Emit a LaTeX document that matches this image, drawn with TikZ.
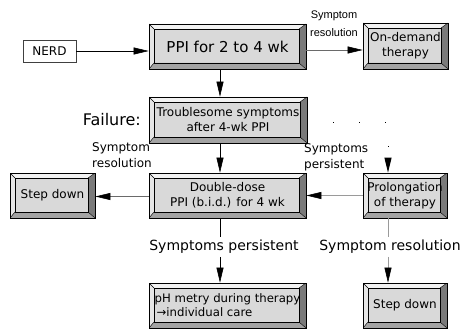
\documentclass[tikz,border=0pt]{standalone}
\usepackage{fontspec}
\setmainfont{DejaVu Sans}
\newfontfamily\arialf{Liberation Sans}
\usetikzlibrary{arrows.meta}
\definecolor{face}{HTML}{D9D9D9}
\definecolor{bevtop}{HTML}{F2F2F2}
\definecolor{bevleft}{HTML}{E6E6E6}
\definecolor{bevright}{HTML}{7A7A7A}
\definecolor{bevbot}{HTML}{A3A3A3}
\definecolor{lightline}{HTML}{9A9A9A}
\definecolor{midline}{HTML}{6A6A6A}
\tikzset{
  bev/.style={draw=black, line width=0.7pt, fill=face, inner sep=0pt, align=center,
    font=\fontsize{12}{15}\selectfont,
    path picture={
      \coordinate (oNW) at (path picture bounding box.north west);
      \coordinate (oNE) at (path picture bounding box.north east);
      \coordinate (oSW) at (path picture bounding box.south west);
      \coordinate (oSE) at (path picture bounding box.south east);
      \coordinate (iNW) at ([xshift=5pt,yshift=-5pt]oNW);
      \coordinate (iNE) at ([xshift=-7pt,yshift=-5pt]oNE);
      \coordinate (iSW) at ([xshift=5pt,yshift=6pt]oSW);
      \coordinate (iSE) at ([xshift=-7pt,yshift=6pt]oSE);
      \fill[bevtop] (oNW) -- (oNE) -- (iNE) -- (iNW) -- cycle;
      \fill[bevleft] (oNW) -- (oSW) -- (iSW) -- (iNW) -- cycle;
      \fill[bevright] (oNE) -- (oSE) -- (iSE) -- (iNE) -- cycle;
      \fill[bevbot] (oSW) -- (oSE) -- (iSE) -- (iSW) -- cycle;
      \draw[line width=0.5pt] (iNW) rectangle (iSE);
      \draw[line width=0.4pt] (oNW) -- (iNW) (oNE) -- (iNE) (oSW) -- (iSW) (oSE) -- (iSE);
    }},
  arr/.style={line width=0.6pt, -{Triangle[length=15pt,width=7pt,color=black]}},
  lbl/.style={inner sep=0pt, font=\fontsize{12}{16}\selectfont},
  biglbl/.style={inner sep=3pt, font=\fontsize{14}{16}\selectfont},
}
\begin{document}
\begin{tikzpicture}[x=1pt,y=-1pt]
\useasboundingbox (0,0) rectangle (461,329);

% boxes
\node[draw=black!75, line width=0.7pt, fill=white, minimum width=53pt, minimum height=22pt,
      inner sep=0pt, font=\fontsize{12}{14}\selectfont] (nerd) at (49.5,51) {NERD};
\node[bev, minimum width=157pt, minimum height=45pt, font=\fontsize{15}{18}\selectfont]
      (ppi) at (227.5,46.5) {PPI for 2 to 4 wk};
\node[bev, minimum width=85pt, minimum height=46pt] (ond) at (405.5,46) {On-demand\\therapy};
\node[bev, minimum width=158pt, minimum height=46pt] (tro) at (228,120)
      {Troublesome symptoms\\after 4-wk PPI};
\node[bev, minimum width=157pt, minimum height=45pt] (dbl) at (227.5,195.5)
      {Double-dose\\PPI (b.i.d.) for 4 wk};
\node[bev, minimum width=85pt, minimum height=45pt] (sdl) at (52.5,195.5) {Step down};
\node[bev, minimum width=84pt, minimum height=45pt] (prl) at (405,195.5)
      {Prolongation\\of therapy};
\node[bev, minimum width=157pt, minimum height=45pt, align=left,
      font=\fontsize{11.7}{14}\selectfont] (ph) at (227.5,305.5)
      {pH metry during therapy\\\,→individual care};
\node[bev, minimum width=84pt, minimum height=45pt] (sdr) at (405,305.5) {Step down};

% labels
\node[inner sep=0pt, align=center, font=\arialf\fontsize{11}{18}\selectfont] (l1) at (334,24)
      {Symptom\\resolution};
\node[inner sep=0pt, anchor=east, font=\fontsize{16}{19}\selectfont] (fail) at (141,120) {Failure:};
\node[lbl, anchor=west, align=left] (l2) at (92,155) {Symptom\\resolution};
\node[lbl, anchor=west, align=left] (l3) at (304,157) {Symptoms\\persistent};
\node[biglbl] (l4) at (224,247) {Symptoms persistent};
\node[biglbl] (l5) at (390,247) {Symptom resolution};

% connectors
\draw[arr] (nerd.east) -- (nerd.east -| ppi.west);
\draw[arr, draw=midline] ([yshift=-3.5pt]ppi.east) -- ([yshift=-3.5pt]ppi.east -| ond.west);
\draw[arr] ([xshift=-7.5pt]ppi.south) -- ([xshift=-7.5pt]ppi.south |- tro.north);
\draw[arr] ([xshift=-8pt]tro.south) -- ([xshift=-8pt]tro.south |- dbl.north);
\draw[arr, draw=midline] ([yshift=-1pt]dbl.west) -- ([yshift=-1pt]dbl.west -| sdl.east);
\draw[arr, draw=lightline] (prl.west) -- (prl.west -| dbl.east);
\draw[line width=1pt, dash pattern=on 1pt off 25pt, -{Triangle[length=15pt,width=7pt,color=black]}]
      ([yshift=-3pt]tro.east) -| ([xshift=-17pt]prl.north);
\draw[line width=0.6pt] ([xshift=-7.5pt]dbl.south) -- ([xshift=-7.5pt]dbl.south |- l4.north);
\draw[arr] ([xshift=-7.5pt]dbl.south |- l4.south) -- ([xshift=-7.5pt]dbl.south |- ph.north);
\draw[line width=0.6pt, draw=lightline] ([xshift=-17pt]prl.south) -- ([xshift=-17pt]prl.south |- l5.north);
\draw[arr, draw=lightline] ([xshift=-17pt]prl.south |- l5.south) -- ([xshift=-17pt]prl.south |- sdr.north);
\end{tikzpicture}
\end{document}
